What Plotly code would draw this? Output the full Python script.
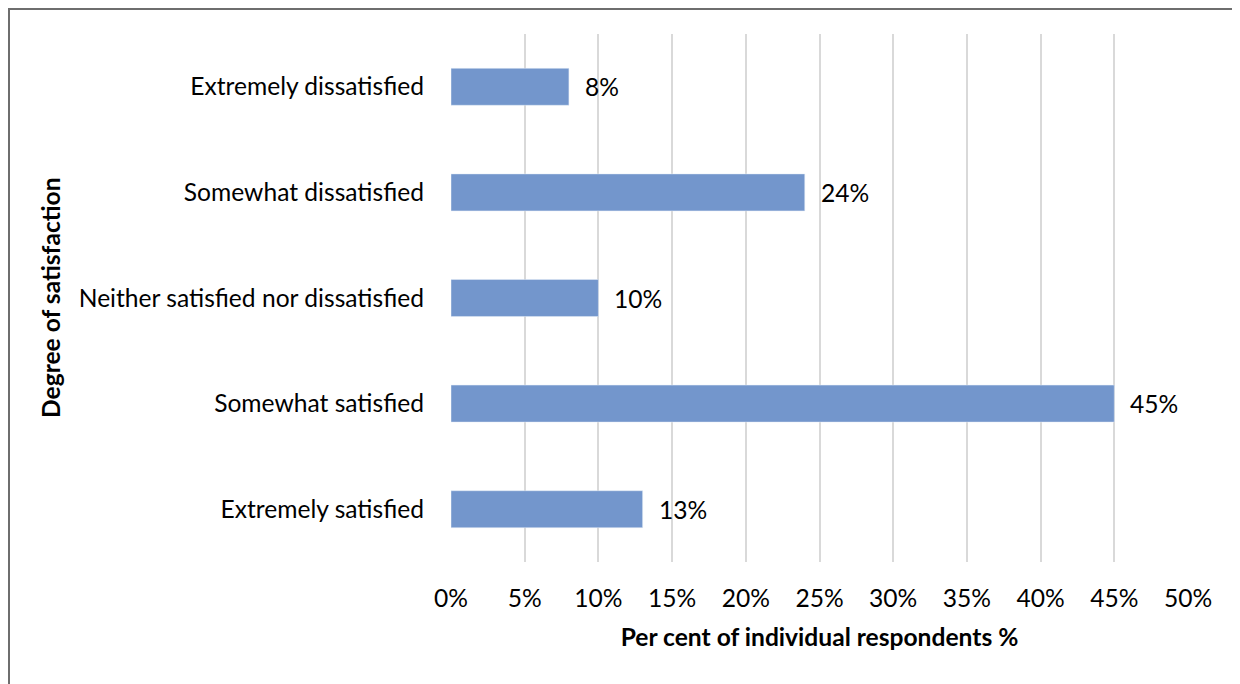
import plotly.graph_objects as go

categories = [
    "Extremely dissatisfied",
    "Somewhat dissatisfied",
    "Neither satisfied nor dissatisfied",
    "Somewhat satisfied",
    "Extremely satisfied",
]
values = [8, 24, 10, 45, 13]
tick_vals = [0, 5, 10, 15, 20, 25, 30, 35, 40, 45, 50]
tick_text = [f"{v}%" for v in tick_vals]

FONT = "Lato, Open Sans, sans-serif"
FS = 24.6

# page body has an 8px margin, so the figure is drawn 8px smaller
W, H = 1232, 676
L, R, T, B = 443, 52, 26, 122
PW, PH = W - L - R, H - T - B

fig = go.Figure()
fig.add_trace(go.Bar(
    x=values,
    y=categories,
    orientation="h",
    width=0.35,
    marker_color="#7396CC",
    hoverinfo="x+y",
))

# data labels, a little away from the bar ends
for cat, v in zip(categories, values):
    fig.add_annotation(x=v, y=cat, text=f"{v}%", showarrow=False,
                       xanchor="left", xshift=14,
                       font=dict(size=FS, color="#000000"))

fig.update_layout(
    width=W,
    height=H,
    margin=dict(l=L, r=R, t=T, b=B),
    plot_bgcolor="white",
    paper_bgcolor="white",
    showlegend=False,
    font=dict(family=FONT, size=FS, color="#000000"),
    shapes=[dict(type="rect", xref="paper", yref="paper",
                 x0=-(L - 1) / PW, x1=1.2, y0=-0.5, y1=1 + (T - 1) / PH,
                 line=dict(color="#6e6e6e", width=2), layer="below")],
)

fig.update_xaxes(
    range=[0, 50],
    tickvals=tick_vals,
    ticktext=tick_text,
    showgrid=True,
    gridcolor="#D9D9D9",
    gridwidth=2,
    zeroline=False,
    showline=False,
    ticks="",
    ticklabelstandoff=19,
    tickfont=dict(size=FS),
    title=dict(text="<b>Per cent of individual respondents %</b>",
               font=dict(size=FS), standoff=18),
)
fig.update_yaxes(
    categoryorder="array",
    categoryarray=categories,
    autorange="reversed",
    showgrid=False,
    showline=False,
    ticks="",
    ticklabelstandoff=26,
    tickfont=dict(size=FS),
)

fig.add_annotation(
    text="<b>Degree of satisfaction</b>",
    xref="paper", yref="paper",
    x=-(L - 42) / PW, y=0.5,
    xanchor="center", yanchor="middle",
    textangle=-90, showarrow=False,
    font=dict(size=FS),
)

fig.write_html("out.html")
